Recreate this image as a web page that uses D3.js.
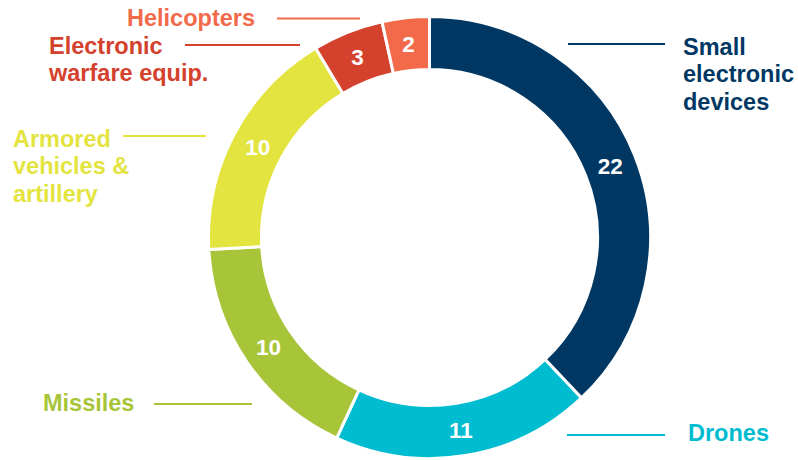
<!DOCTYPE html>
<html>
<head>
<meta charset="utf-8">
<script src="https://cdn.jsdelivr.net/npm/d3@7"></script>
<style>
html,body{margin:0;padding:0;background:#fff;}
svg{display:block;}
text{font-family:"Liberation Sans",Arial,sans-serif;font-weight:bold;}
</style>
</head>
<body>
<svg id="chart" width="798" height="460"></svg>
<script>
// Data
const categories = ["Small electronic devices","Drones","Missiles","Armored vehicles & artillery","Electronic warfare equip.","Helicopters"];
const values = [22, 11, 10, 10, 3, 2];
const labelLines = [
  ["Small","electronic","devices"],
  ["Drones"],
  ["Missiles"],
  ["Armored","vehicles &","artillery"],
  ["Electronic","warfare equip."],
  ["Helicopters"]
];
const colors = ["#003863","#00BCD0","#A8C53A","#E4E441","#D4412D","#F26A4A"];

// Layout (positions of outside labels & leader lines)
const labelLayout = [
  {x:683, y:55,  lx1:568, lx2:665, ly:44},
  {x:688, y:441, lx1:567, lx2:665, ly:435},
  {x:43,  y:411, lx1:154, lx2:252, ly:404},
  {x:13,  y:147, lx1:123, lx2:206, ly:136},
  {x:49,  y:54,  lx1:185, lx2:300, ly:45},
  {x:127, y:26,  lx1:277, lx2:360, ly:18.5}
];

const svg = d3.select("#chart");
const cx = 429.5, cy = 237.5, rOuter = 221, rInner = 168;

const data = categories.map((c,i)=>({cat:c, value:values[i], i}));
const pie = d3.pie().value(d=>d.value).sort(null).startAngle(0).endAngle(2*Math.PI);
const arcs = pie(data);
const arc = d3.arc().innerRadius(rInner).outerRadius(rOuter);
const labelArc = d3.arc().innerRadius((rInner+rOuter)/2).outerRadius((rInner+rOuter)/2);

const g = svg.append("g").attr("transform",`translate(${cx},${cy})`);
g.selectAll("path").data(arcs).enter().append("path")
  .attr("d",arc)
  .attr("fill",d=>colors[d.data.i])
  .attr("stroke","#fff")
  .attr("stroke-width",3);

g.selectAll("text.val").data(arcs).enter().append("text")
  .attr("class","val")
  .attr("transform",d=>`translate(${labelArc.centroid(d)})`)
  .attr("text-anchor","middle")
  .attr("dy","0.36em")
  .attr("fill","#fff")
  .attr("font-size",22.5)
  .text(d=>d.data.value);

// Outside labels
const lg = svg.append("g");
labelLayout.forEach((p,i)=>{
  lg.append("line")
    .attr("x1",p.lx1).attr("x2",p.lx2).attr("y1",p.ly).attr("y2",p.ly)
    .attr("stroke",colors[i]).attr("stroke-width",2);
  const t = lg.append("text")
    .attr("x",p.x).attr("y",p.y)
    .attr("fill",colors[i])
    .attr("font-size",23.5);
  labelLines[i].forEach((ln,j)=>{
    t.append("tspan").attr("x",p.x).attr("y",p.y + j*27.3).text(ln);
  });
});
</script>
</body>
</html>
